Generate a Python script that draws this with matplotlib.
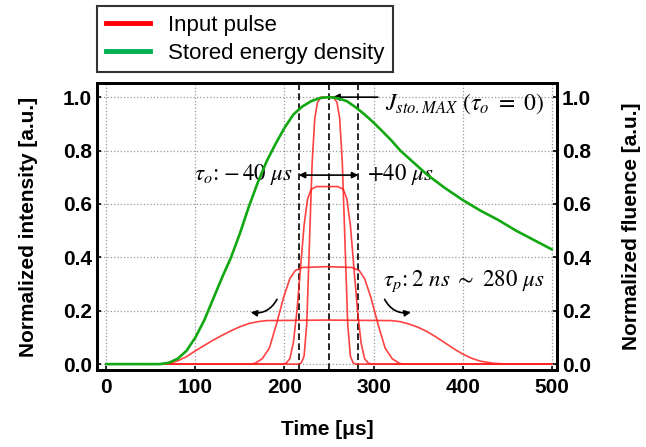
import matplotlib
matplotlib.use("Agg")
import matplotlib.pyplot as plt
from matplotlib.lines import Line2D

plt.rcParams['font.family'] = ['Liberation Sans', 'DejaVu Sans']
plt.rcParams['mathtext.fontset'] = 'stix'

# stored energy density (green)
green_t = [0, 60, 70, 80, 90, 100, 110, 120, 130, 140, 150, 160, 170, 180, 190, 200,
           210, 220, 230, 240, 250, 260, 270, 280, 290, 300, 310, 320, 330, 340, 350,
           360, 380, 400, 420, 440, 460, 480, 500]
green_y = [0, 0, 0.005, 0.02, 0.05, 0.10, 0.165, 0.245, 0.325, 0.40, 0.49, 0.59, 0.68,
           0.76, 0.825, 0.885, 0.935, 0.965, 0.985, 0.997, 1.0, 0.996, 0.985, 0.962,
           0.935, 0.905, 0.872, 0.838, 0.80, 0.77, 0.74, 0.71, 0.66, 0.615, 0.575,
           0.54, 0.50, 0.465, 0.43]

# input pulses (red), tallest to flattest
pulse_a_t = [0, 216, 219, 222, 225, 228, 231, 234, 237, 241, 248, 255, 259, 262, 265,
             268, 271, 274, 277, 280, 500]
pulse_a_y = [0, 0, 0.005, 0.03, 0.15, 0.45, 0.75, 0.92, 0.98, 1.0, 1.0, 1.0, 0.98, 0.92,
             0.75, 0.45, 0.15, 0.03, 0.005, 0, 0]

pulse_b_t = [0, 198, 202, 206, 210, 214, 218, 222, 226, 230, 236, 248, 260, 266, 270,
             274, 278, 282, 286, 290, 294, 298, 500]
pulse_b_y = [0, 0, 0.004, 0.02, 0.08, 0.2, 0.36, 0.52, 0.62, 0.655, 0.665, 0.665, 0.665,
             0.655, 0.62, 0.52, 0.36, 0.2, 0.08, 0.02, 0.004, 0, 0]

pulse_c_t = [0, 162, 167, 175, 183, 191, 199, 206, 212, 220, 248, 276, 284, 290, 297,
             305, 313, 321, 329, 334, 500]
pulse_c_y = [0, 0, 0.003, 0.02, 0.06, 0.15, 0.25, 0.32, 0.35, 0.362, 0.365, 0.362, 0.35,
             0.32, 0.25, 0.15, 0.06, 0.02, 0.003, 0, 0]

pulse_d_t = [0, 60, 70, 80, 90, 100, 110, 120, 130, 140, 150, 160, 170, 180, 248, 320,
             330, 340, 350, 360, 370, 380, 390, 400, 410, 420, 435, 450, 500]
pulse_d_y = [0, 0, 0.003, 0.012, 0.028, 0.05, 0.07, 0.09, 0.108, 0.125, 0.14, 0.152,
             0.159, 0.163, 0.165, 0.163, 0.159, 0.15, 0.138, 0.122, 0.102, 0.08, 0.058,
             0.038, 0.022, 0.011, 0.003, 0, 0]

pulses = [(pulse_a_t, pulse_a_y), (pulse_b_t, pulse_b_y),
          (pulse_c_t, pulse_c_y), (pulse_d_t, pulse_d_y)]

delay_lines = [216, 250, 283]
x_ticks = [0, 100, 200, 300, 400, 500]
y_ticks = [0.0, 0.2, 0.4, 0.6, 0.8, 1.0]

fig = plt.figure(figsize=(6.46, 4.47), dpi=100)
ax = fig.add_axes([0.1502, 0.1723, 0.712, 0.642])

for t, y in pulses:
    ax.plot(t, y, color='#ff2020', lw=1.2, alpha=0.85, zorder=3)
ax.plot(green_t, green_y, color='#12a812', lw=1.9, zorder=4)

for xv in delay_lines:
    ax.axvline(xv, color='black', lw=1.2, ls=(0, (4, 2)), zorder=2)

ax.set_xlim(-10.5, 506)
ax.set_ylim(-0.022, 1.053)
ax.set_xticks(x_ticks)
ax.set_yticks(y_ticks)
ax.set_yticklabels([f'{v:.1f}' for v in y_ticks])
ax.grid(True, ls=':', color='#999999', lw=0.9)
ax.tick_params(direction='in', length=3, width=1.2, labelsize=15)
ax.tick_params(axis='x', pad=6)
for lab in ax.get_xticklabels() + ax.get_yticklabels():
    lab.set_fontweight('bold')
for sp in ax.spines.values():
    sp.set_linewidth(2.0)

ax.set_xlabel('Time [μs]', fontsize=15, fontweight='bold', labelpad=16)
ax.set_ylabel('Normalized intensity [a.u.]', fontsize=15, fontweight='bold', labelpad=18)

ax2 = ax.twinx()
ax2.set_ylim(ax.get_ylim())
ax2.set_yticks(y_ticks)
ax2.set_yticklabels([f'{v:.1f}' for v in y_ticks], fontweight='bold')
ax2.tick_params(direction='in', length=3, width=1.2, labelsize=15)
ax2.set_ylabel('Normalized fluence [a.u.]', fontsize=15, fontweight='bold', labelpad=22)
for sp in ax2.spines.values():
    sp.set_linewidth(2.0)

# annotations
ax.annotate('', xy=(251, 1.0), xytext=(308, 1.0),
            arrowprops=dict(arrowstyle='-|>', color='black', lw=1.2, mutation_scale=10))
ax.text(313, 0.975, r'$J_{sto.MAX}\ (\tau_o\ =\ 0)$', fontsize=17, va='center', ha='left')

ax.annotate('', xy=(216, 0.708), xytext=(283, 0.708),
            arrowprops=dict(arrowstyle='<|-|>', color='black', lw=1.2, mutation_scale=9,
                            shrinkA=0, shrinkB=0))
ax.text(209, 0.712, r'$\tau_o\!:\!-40\ \mu s$', fontsize=16.5, va='center', ha='right')
ax.text(293, 0.712, r'$+40\ \mu s$', fontsize=16.5, va='center', ha='left')

ax.text(311, 0.31, r'$\tau_p\!:2\ ns\ \sim\ 280\ \mu s$', fontsize=16.5, va='center', ha='left')
ax.annotate('', xy=(159, 0.196), xytext=(193, 0.252),
            arrowprops=dict(arrowstyle='-|>', color='black', lw=1.2, mutation_scale=9,
                            connectionstyle='arc3,rad=-0.4'))
ax.annotate('', xy=(345, 0.196), xytext=(311, 0.252),
            arrowprops=dict(arrowstyle='-|>', color='black', lw=1.2, mutation_scale=9,
                            connectionstyle='arc3,rad=0.4'))

handles = [Line2D([], [], color='red', lw=3.5), Line2D([], [], color='#00b050', lw=3.5)]
leg = fig.legend(handles, ['Input pulse', 'Stored energy density'],
                 loc='upper left', bbox_to_anchor=(97 / 646, 1 - 6 / 447),
                 fontsize=16, frameon=True, fancybox=False, borderaxespad=0,
                 handlelength=2.0, labelspacing=0.3, borderpad=0.4)
leg.get_frame().set_edgecolor('black')
leg.get_frame().set_linewidth(1.5)

fig.savefig('out.png', dpi=100)
